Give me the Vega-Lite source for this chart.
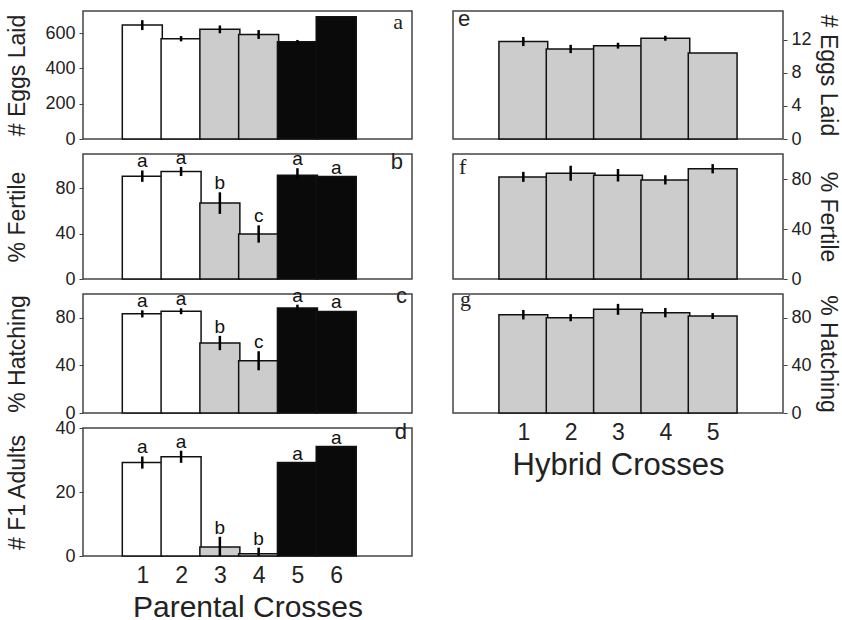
{
  "$schema": "https://vega.github.io/schema/vega-lite/v6.json",
  "background": "white",
  "padding": {"left": 5, "top": 7, "right": 5, "bottom": 0},
  "spacing": 39,
  "config": {
    "view": {"stroke": "#444444", "strokeWidth": 1.5},
    "axis": {
      "labelFont": "Liberation Sans", "labelFontSize": 18, "labelColor": "#222222",
      "titleFont": "Liberation Sans", "titleFontSize": 23, "titleFontWeight": "normal", "titleColor": "#222222",
      "domain": false, "grid": false, "tickColor": "#444444", "tickSize": 4, "labelPadding": 4
    },
    "title": {"fontSize": 22, "fontWeight": "normal", "font": "Liberation Sans", "color": "#222222", "frame": "group", "baseline": "alphabetic"}
  },
  "datasets": {
    "parA": [
      {"cross": 1, "mean": 645, "lo": 617, "hi": 673, "grp": "white", "sig": ""},
      {"cross": 2, "mean": 568, "lo": 553, "hi": 583, "grp": "white", "sig": ""},
      {"cross": 3, "mean": 621, "lo": 599, "hi": 643, "grp": "gray", "sig": ""},
      {"cross": 4, "mean": 592, "lo": 567, "hi": 617, "grp": "gray", "sig": ""},
      {"cross": 5, "mean": 551, "lo": 541, "hi": 561, "grp": "black", "sig": ""},
      {"cross": 6, "mean": 693, "lo": 693, "hi": 693, "grp": "black", "sig": ""}
    ],
    "parB": [
      {"cross": 1, "mean": 90.5, "lo": 85.5, "hi": 95.5, "grp": "white", "sig": "a"},
      {"cross": 2, "mean": 94.6, "lo": 90.6, "hi": 98.6, "grp": "white", "sig": "a"},
      {"cross": 3, "mean": 66.8, "lo": 57.3, "hi": 76.3, "grp": "gray", "sig": "b"},
      {"cross": 4, "mean": 39.6, "lo": 32.0, "hi": 47.2, "grp": "gray", "sig": "c"},
      {"cross": 5, "mean": 91.4, "lo": 88.0, "hi": 97.5, "grp": "black", "sig": "a"},
      {"cross": 6, "mean": 90.2, "lo": 90.2, "hi": 90.2, "grp": "black", "sig": "a"}
    ],
    "parC": [
      {"cross": 1, "mean": 83.3, "lo": 80.3, "hi": 86.3, "grp": "white", "sig": "a"},
      {"cross": 2, "mean": 85.5, "lo": 83.0, "hi": 88.0, "grp": "white", "sig": "a"},
      {"cross": 3, "mean": 58.8, "lo": 52.8, "hi": 64.8, "grp": "gray", "sig": "b"},
      {"cross": 4, "mean": 43.9, "lo": 35.9, "hi": 51.9, "grp": "gray", "sig": "c"},
      {"cross": 5, "mean": 88.3, "lo": 86.0, "hi": 91.0, "grp": "black", "sig": "a"},
      {"cross": 6, "mean": 85.3, "lo": 85.3, "hi": 85.3, "grp": "black", "sig": "a"}
    ],
    "parD": [
      {"cross": 1, "mean": 29.2, "lo": 27.3, "hi": 31.1, "grp": "white", "sig": "a"},
      {"cross": 2, "mean": 31.0, "lo": 29.1, "hi": 32.9, "grp": "white", "sig": "a"},
      {"cross": 3, "mean": 2.8, "lo": 0, "hi": 6.0, "grp": "gray", "sig": "b"},
      {"cross": 4, "mean": 0.7, "lo": 0, "hi": 2.6, "grp": "gray", "sig": "b"},
      {"cross": 5, "mean": 29.2, "lo": 29.2, "hi": 29.2, "grp": "black", "sig": "a"},
      {"cross": 6, "mean": 34.2, "lo": 34.2, "hi": 34.2, "grp": "black", "sig": "a"}
    ],
    "hybE": [
      {"cross": 1, "mean": 11.8, "lo": 11.25, "hi": 12.35},
      {"cross": 2, "mean": 10.9, "lo": 10.4, "hi": 11.4},
      {"cross": 3, "mean": 11.3, "lo": 10.95, "hi": 11.65},
      {"cross": 4, "mean": 12.2, "lo": 11.9, "hi": 12.5},
      {"cross": 5, "mean": 10.4, "lo": 10.4, "hi": 10.4}
    ],
    "hybF": [
      {"cross": 1, "mean": 81.7, "lo": 77.7, "hi": 85.7},
      {"cross": 2, "mean": 84.6, "lo": 78.6, "hi": 90.6},
      {"cross": 3, "mean": 83.0, "lo": 78.0, "hi": 88.0},
      {"cross": 4, "mean": 79.3, "lo": 75.6, "hi": 83.0},
      {"cross": 5, "mean": 88.2, "lo": 84.5, "hi": 91.9}
    ],
    "hybG": [
      {"cross": 1, "mean": 82.6, "lo": 78.6, "hi": 86.6},
      {"cross": 2, "mean": 80.1, "lo": 77.1, "hi": 83.1},
      {"cross": 3, "mean": 87.1, "lo": 82.5, "hi": 91.7},
      {"cross": 4, "mean": 84.3, "lo": 80.4, "hi": 88.2},
      {"cross": 5, "mean": 81.5, "lo": 79.0, "hi": 84.0}
    ]
  },
  "hconcat": [
    {
      "bounds": "flush",
      "spacing": 15,
      "vconcat": [
        {
          "width": 329, "height": 128,
          "title": {"text": "a", "anchor": "end", "offset": -23, "dx": -9, "font": "Liberation Serif"},
          "data": {"name": "parA"},
          "layer": [
            {"mark": {"type": "bar", "width": 40, "stroke": "#111111", "strokeWidth": 1.5},
             "encoding": {
               "x": {"field": "cross", "type": "quantitative", "scale": {"domain": [-0.4, 7.825], "nice": false, "zero": false}, "axis": null},
               "y": {"field": "mean", "type": "quantitative", "title": "# Eggs Laid", "scale": {"domain": [0, 725], "nice": false},
                     "axis": {"values": [0, 100, 200, 300, 400, 500, 600, 700], "labelExpr": "datum.value % 200 === 0 ? datum.label : ''", "titleX": -54}},
               "fill": {"field": "grp", "type": "nominal", "scale": {"domain": ["white", "gray", "black"], "range": ["#ffffff", "#cccccc", "#0a0a0a"]}, "legend": null}
             }},
            {"mark": {"type": "rule", "strokeWidth": 2.5, "color": "#000000"},
             "encoding": {
               "x": {"field": "cross", "type": "quantitative"},
               "y": {"field": "lo", "type": "quantitative", "title": "# Eggs Laid"},
               "y2": {"field": "hi"}
             }}
          ]
        },
        {
          "width": 329, "height": 125,
          "title": {"text": "b", "anchor": "end", "offset": -25, "dx": -9},
          "data": {"name": "parB"},
          "layer": [
            {"mark": {"type": "bar", "width": 40, "stroke": "#111111", "strokeWidth": 1.5},
             "encoding": {
               "x": {"field": "cross", "type": "quantitative", "scale": {"domain": [-0.4, 7.825], "nice": false, "zero": false}, "axis": null},
               "y": {"field": "mean", "type": "quantitative", "title": "% Fertile", "scale": {"domain": [0, 110], "nice": false},
                     "axis": {"values": [0, 20, 40, 60, 80, 100], "labelExpr": "datum.value % 40 === 0 ? datum.label : ''", "titleX": -54}},
               "fill": {"field": "grp", "type": "nominal", "scale": {"domain": ["white", "gray", "black"], "range": ["#ffffff", "#cccccc", "#0a0a0a"]}, "legend": null}
             }},
            {"mark": {"type": "rule", "strokeWidth": 2.5, "color": "#000000"},
             "encoding": {
               "x": {"field": "cross", "type": "quantitative"},
               "y": {"field": "lo", "type": "quantitative", "title": "% Fertile"},
               "y2": {"field": "hi"}
             }},
            {"mark": {"type": "text", "font": "Liberation Sans", "fontSize": 19, "baseline": "alphabetic", "dy": -3, "color": "#111111"},
             "encoding": {
               "x": {"field": "cross", "type": "quantitative"},
               "y": {"field": "hi", "type": "quantitative", "title": "% Fertile"},
               "text": {"field": "sig"}
             }}
          ]
        },
        {
          "width": 329, "height": 119,
          "title": {"text": "c", "anchor": "end", "offset": -21, "dx": -5},
          "data": {"name": "parC"},
          "layer": [
            {"mark": {"type": "bar", "width": 40, "stroke": "#111111", "strokeWidth": 1.5},
             "encoding": {
               "x": {"field": "cross", "type": "quantitative", "scale": {"domain": [-0.4, 7.825], "nice": false, "zero": false}, "axis": null},
               "y": {"field": "mean", "type": "quantitative", "title": "% Hatching", "scale": {"domain": [0, 100], "nice": false},
                     "axis": {"values": [0, 20, 40, 60, 80, 100], "labelExpr": "datum.value % 40 === 0 ? datum.label : ''", "titleX": -54}},
               "fill": {"field": "grp", "type": "nominal", "scale": {"domain": ["white", "gray", "black"], "range": ["#ffffff", "#cccccc", "#0a0a0a"]}, "legend": null}
             }},
            {"mark": {"type": "rule", "strokeWidth": 2.5, "color": "#000000"},
             "encoding": {
               "x": {"field": "cross", "type": "quantitative"},
               "y": {"field": "lo", "type": "quantitative", "title": "% Hatching"},
               "y2": {"field": "hi"}
             }},
            {"mark": {"type": "text", "font": "Liberation Sans", "fontSize": 19, "baseline": "alphabetic", "dy": -3, "color": "#111111"},
             "encoding": {
               "x": {"field": "cross", "type": "quantitative"},
               "y": {"field": "hi", "type": "quantitative", "title": "% Hatching"},
               "text": {"field": "sig"}
             }}
          ]
        },
        {
          "width": 329, "height": 128,
          "title": {"text": "d", "anchor": "end", "offset": -25, "dx": -5},
          "data": {"name": "parD"},
          "layer": [
            {"mark": {"type": "bar", "width": 40, "stroke": "#111111", "strokeWidth": 1.5},
             "encoding": {
               "x": {"field": "cross", "type": "quantitative", "title": "Parental Crosses", "scale": {"domain": [-0.4, 7.825], "nice": false, "zero": false},
                     "axis": {"values": [1, 2, 3, 4, 5, 6], "labelFontSize": 23, "titleFontSize": 30, "tickSize": 0, "labelPadding": 8, "titlePadding": 5}},
               "y": {"field": "mean", "type": "quantitative", "title": "# F1 Adults", "scale": {"domain": [0, 40], "nice": false},
                     "axis": {"values": [0, 10, 20, 30, 40], "labelExpr": "datum.value % 20 === 0 ? datum.label : ''", "titleX": -54}},
               "fill": {"field": "grp", "type": "nominal", "scale": {"domain": ["white", "gray", "black"], "range": ["#ffffff", "#cccccc", "#0a0a0a"]}, "legend": null}
             }},
            {"mark": {"type": "rule", "strokeWidth": 2.5, "color": "#000000"},
             "encoding": {
               "x": {"field": "cross", "type": "quantitative", "title": "Parental Crosses"},
               "y": {"field": "lo", "type": "quantitative", "title": "# F1 Adults"},
               "y2": {"field": "hi"}
             }},
            {"mark": {"type": "text", "font": "Liberation Sans", "fontSize": 19, "baseline": "alphabetic", "dy": -3, "color": "#111111"},
             "encoding": {
               "x": {"field": "cross", "type": "quantitative", "title": "Parental Crosses"},
               "y": {"field": "hi", "type": "quantitative", "title": "# F1 Adults"},
               "text": {"field": "sig"}
             }}
          ]
        }
      ]
    },
    {
      "bounds": "flush",
      "spacing": 15,
      "vconcat": [
        {
          "width": 330, "height": 128,
          "title": {"text": "e", "anchor": "start", "offset": -20, "dx": 5},
          "data": {"name": "hybE"},
          "layer": [
            {"mark": {"type": "bar", "width": 48.8, "stroke": "#111111", "strokeWidth": 1.5, "fill": "#cccccc"},
             "encoding": {
               "x": {"field": "cross", "type": "quantitative", "scale": {"domain": [-0.38, 6.38], "nice": false, "zero": false}, "axis": null},
               "y": {"field": "mean", "type": "quantitative", "title": "# Eggs Laid", "scale": {"domain": [0, 15.5], "nice": false},
                     "axis": {"orient": "right", "values": [0, 2, 4, 6, 8, 10, 12, 14], "labelExpr": "datum.value % 4 === 0 ? datum.label : ''"}}
             }},
            {"mark": {"type": "rule", "strokeWidth": 2.5, "color": "#000000"},
             "encoding": {
               "x": {"field": "cross", "type": "quantitative"},
               "y": {"field": "lo", "type": "quantitative", "title": "# Eggs Laid"},
               "y2": {"field": "hi"}
             }}
          ]
        },
        {
          "width": 330, "height": 125,
          "title": {"text": "f", "anchor": "start", "offset": -25, "dx": 6, "font": "Liberation Serif"},
          "data": {"name": "hybF"},
          "layer": [
            {"mark": {"type": "bar", "width": 48.8, "stroke": "#111111", "strokeWidth": 1.5, "fill": "#cccccc"},
             "encoding": {
               "x": {"field": "cross", "type": "quantitative", "scale": {"domain": [-0.38, 6.38], "nice": false, "zero": false}, "axis": null},
               "y": {"field": "mean", "type": "quantitative", "title": "% Fertile", "scale": {"domain": [0, 100], "nice": false},
                     "axis": {"orient": "right", "values": [0, 20, 40, 60, 80, 100], "labelExpr": "datum.value % 40 === 0 ? datum.label : ''"}}
             }},
            {"mark": {"type": "rule", "strokeWidth": 2.5, "color": "#000000"},
             "encoding": {
               "x": {"field": "cross", "type": "quantitative"},
               "y": {"field": "lo", "type": "quantitative", "title": "% Fertile"},
               "y2": {"field": "hi"}
             }}
          ]
        },
        {
          "width": 330, "height": 119,
          "title": {"text": "g", "anchor": "start", "offset": -17, "dx": 7, "font": "Liberation Serif"},
          "data": {"name": "hybG"},
          "layer": [
            {"mark": {"type": "bar", "width": 48.8, "stroke": "#111111", "strokeWidth": 1.5, "fill": "#cccccc"},
             "encoding": {
               "x": {"field": "cross", "type": "quantitative", "title": "Hybrid Crosses", "scale": {"domain": [-0.38, 6.38], "nice": false, "zero": false},
                     "axis": {"values": [1, 2, 3, 4, 5], "labelFontSize": 23, "titleFontSize": 31, "tickSize": 0, "labelPadding": 8, "titlePadding": 6}},
               "y": {"field": "mean", "type": "quantitative", "title": "% Hatching", "scale": {"domain": [0, 100], "nice": false},
                     "axis": {"orient": "right", "values": [0, 20, 40, 60, 80, 100], "labelExpr": "datum.value % 40 === 0 ? datum.label : ''"}}
             }},
            {"mark": {"type": "rule", "strokeWidth": 2.5, "color": "#000000"},
             "encoding": {
               "x": {"field": "cross", "type": "quantitative", "title": "Hybrid Crosses"},
               "y": {"field": "lo", "type": "quantitative", "title": "% Hatching"},
               "y2": {"field": "hi"}
             }}
          ]
        }
      ]
    }
  ]
}
